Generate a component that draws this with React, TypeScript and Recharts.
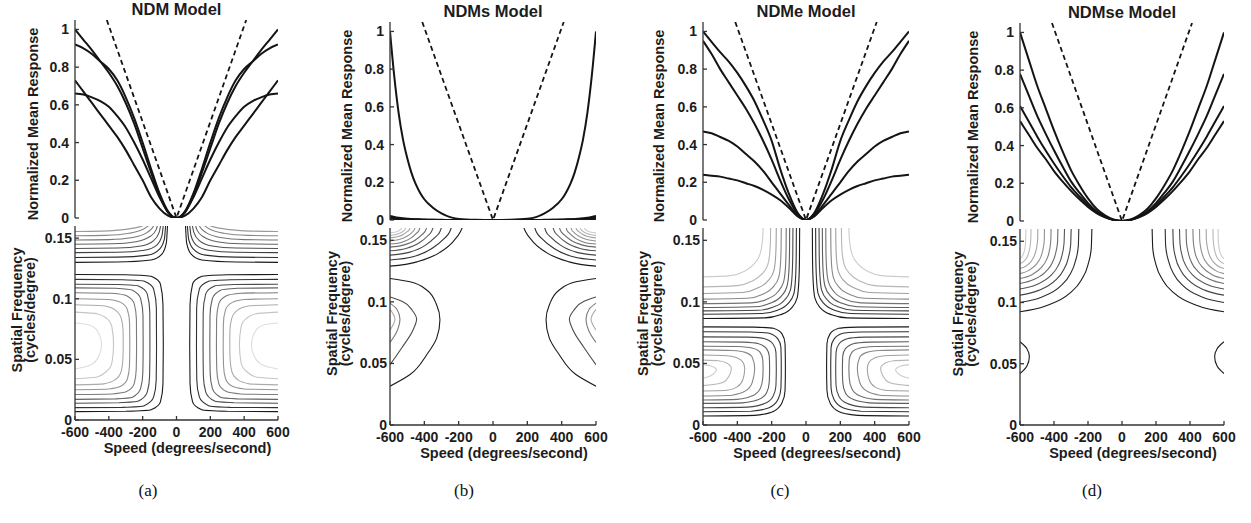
import { LineChart, Line, XAxis, YAxis } from 'recharts';

type Pt = [number, number];
type CurveKind = 'monotoneX' | 'monotoneY';

const speedTicks = [-600, -400, -200, 0, 200, 400, 600];
const responseTicks = [0, 0.2, 0.4, 0.6, 0.8, 1];
const freqTicks = [0, 0.05, 0.1, 0.15];

// |speed| values at which the tuning curves were read (curves are symmetric)
const halfSpeeds = [0, 50, 100, 150, 200, 250, 300, 350, 400, 450, 500, 550, 600];
const ndmsHalfSpeeds = [0, 100, 200, 250, 300, 350, 400, 425, 450, 475, 500, 525, 550, 575, 600];

const ndmResponse = [
  [0, 0.03, 0.12, 0.24, 0.37, 0.5, 0.61, 0.7, 0.77, 0.83, 0.89, 0.945, 1.0],
  [0, 0.035, 0.13, 0.26, 0.4, 0.53, 0.64, 0.73, 0.79, 0.83, 0.87, 0.9, 0.92],
  [0, 0.012, 0.05, 0.11, 0.2, 0.28, 0.36, 0.43, 0.49, 0.55, 0.61, 0.67, 0.73],
  [0, 0.03, 0.11, 0.21, 0.31, 0.4, 0.48, 0.54, 0.59, 0.62, 0.64, 0.655, 0.66],
];
const ndmsResponse = [
  [0, 0.001, 0.006, 0.015, 0.035, 0.065, 0.11, 0.145, 0.19, 0.25, 0.33, 0.43, 0.57, 0.76, 1.0],
  [0, 0, 0, 0, 0.001, 0.001, 0.002, 0.003, 0.004, 0.005, 0.007, 0.009, 0.012, 0.016, 0.021],
  [0, 0, 0, 0, 0, 0.001, 0.001, 0.002, 0.002, 0.003, 0.004, 0.005, 0.007, 0.01, 0.013],
  [0, 0, 0, 0, 0, 0, 0, 0.001, 0.001, 0.001, 0.002, 0.002, 0.003, 0.004, 0.006],
];
const ndmeResponse = [
  [0, 0.04, 0.14, 0.27, 0.42, 0.53, 0.63, 0.71, 0.78, 0.84, 0.89, 0.945, 1.0],
  [0, 0.035, 0.11, 0.21, 0.32, 0.42, 0.51, 0.59, 0.66, 0.73, 0.8, 0.88, 0.95],
  [0, 0.025, 0.08, 0.14, 0.2, 0.26, 0.31, 0.35, 0.39, 0.42, 0.44, 0.46, 0.47],
  [0, 0.02, 0.065, 0.105, 0.135, 0.16, 0.18, 0.195, 0.21, 0.22, 0.23, 0.235, 0.24],
];
const ndmseResponse = [
  [0, 0.008, 0.03, 0.065, 0.12, 0.19, 0.27, 0.37, 0.48, 0.6, 0.72, 0.86, 1.0],
  [0, 0.006, 0.024, 0.052, 0.095, 0.15, 0.21, 0.29, 0.375, 0.465, 0.56, 0.67, 0.78],
  [0, 0.006, 0.022, 0.048, 0.085, 0.13, 0.18, 0.24, 0.305, 0.375, 0.45, 0.53, 0.61],
  [0, 0.005, 0.019, 0.042, 0.075, 0.115, 0.16, 0.21, 0.265, 0.33, 0.39, 0.46, 0.53],
];

// dashed reference (linear) response
const linearSpeeds = [-412, 0, 412];
const linearResponse = [1.05, 0, 1.05];

// contour lines, left half (speed, spatial frequency); right half is the mirror image
const ndmUpper: Pt[][] = [
  [[-600, 0.13], [-350, 0.1303], [-150, 0.132], [-85, 0.137], [-60, 0.146], [-53, 0.161]],
  [[-600, 0.134], [-350, 0.1343], [-170, 0.136], [-100, 0.141], [-72, 0.149], [-64, 0.161]],
  [[-600, 0.138], [-350, 0.1383], [-190, 0.14], [-115, 0.1445], [-86, 0.152], [-78, 0.161]],
  [[-600, 0.1415], [-350, 0.1418], [-210, 0.1435], [-135, 0.148], [-102, 0.155], [-93, 0.161]],
  [[-600, 0.145], [-380, 0.1453], [-240, 0.147], [-155, 0.1515], [-120, 0.157], [-112, 0.161]],
  [[-600, 0.1485], [-400, 0.1488], [-260, 0.1505], [-175, 0.1545], [-140, 0.159], [-132, 0.161]],
  [[-600, 0.152], [-420, 0.1523], [-280, 0.154], [-195, 0.1575], [-158, 0.161]],
  [[-600, 0.1555], [-440, 0.1558], [-300, 0.1572], [-215, 0.1595], [-182, 0.161]],
];
const ndmLower: Pt[][] = [
  [[-600, 0.12], [-300, 0.1198], [-150, 0.1185], [-95, 0.112], [-80, 0.095], [-78, 0.062], [-80, 0.03], [-95, 0.015], [-150, 0.0085], [-300, 0.0072], [-600, 0.0069]],
  [[-600, 0.116], [-320, 0.1157], [-190, 0.1145], [-135, 0.108], [-119, 0.092], [-118, 0.062], [-120, 0.033], [-135, 0.019], [-190, 0.0118], [-320, 0.0104], [-600, 0.0102]],
  [[-600, 0.112], [-340, 0.1117], [-225, 0.1105], [-173, 0.104], [-158, 0.089], [-157, 0.062], [-159, 0.036], [-173, 0.023], [-225, 0.0156], [-340, 0.0142], [-600, 0.0138]],
  [[-600, 0.109], [-360, 0.1086], [-260, 0.107], [-212, 0.1], [-198, 0.086], [-197, 0.062], [-199, 0.039], [-212, 0.026], [-260, 0.0188], [-360, 0.0174], [-600, 0.017]],
  [[-600, 0.105], [-380, 0.1046], [-295, 0.1025], [-250, 0.096], [-237, 0.083], [-236, 0.062], [-238, 0.042], [-250, 0.03], [-295, 0.0235], [-380, 0.0215], [-600, 0.021]],
  [[-600, 0.1], [-400, 0.0994], [-330, 0.097], [-290, 0.091], [-277, 0.079], [-276, 0.062], [-278, 0.045], [-290, 0.034], [-330, 0.0278], [-400, 0.0256], [-600, 0.025]],
  [[-600, 0.095], [-430, 0.0942], [-365, 0.091], [-327, 0.084], [-316, 0.074], [-315, 0.062], [-317, 0.05], [-327, 0.04], [-365, 0.033], [-430, 0.0298], [-600, 0.029]],
  [[-600, 0.089], [-470, 0.0877], [-415, 0.084], [-382, 0.077], [-372, 0.062], [-382, 0.047], [-415, 0.04], [-470, 0.0355], [-600, 0.034]],
  [[-600, 0.08], [-520, 0.0786], [-470, 0.074], [-443, 0.062], [-470, 0.05], [-520, 0.0448], [-600, 0.042]],
];

const ndmsUpper: Pt[][] = [
  [[-600, 0.129], [-443, 0.1325], [-312, 0.14], [-232, 0.149], [-190, 0.157], [-177, 0.161]],
  [[-600, 0.134], [-467, 0.1366], [-356, 0.1433], [-288, 0.151], [-252, 0.1569], [-241, 0.161]],
  [[-600, 0.138], [-489, 0.1402], [-395, 0.1459], [-338, 0.1523], [-308, 0.1574], [-299, 0.161]],
  [[-600, 0.1415], [-507, 0.1434], [-429, 0.148], [-381, 0.1535], [-356, 0.1578], [-348, 0.161]],
  [[-600, 0.1445], [-521, 0.1461], [-454, 0.15], [-414, 0.1546], [-392, 0.1581], [-386, 0.161]],
  [[-600, 0.147], [-535, 0.1483], [-481, 0.1516], [-448, 0.1555], [-430, 0.1584], [-425, 0.161]],
  [[-600, 0.1495], [-546, 0.1506], [-501, 0.1533], [-473, 0.1563], [-458, 0.1587], [-454, 0.161]],
  [[-600, 0.152], [-557, 0.1529], [-520, 0.155], [-498, 0.1572], [-486, 0.159], [-483, 0.161]],
  [[-600, 0.154], [-566, 0.1547], [-537, 0.1561], [-519, 0.1579], [-510, 0.1593], [-507, 0.161]],
  [[-600, 0.156], [-575, 0.1565], [-554, 0.1574], [-541, 0.1586], [-534, 0.1596], [-532, 0.161]],
];
const ndmsLower: Pt[][] = [
  [[-600, 0.119], [-483, 0.1163], [-386, 0.1096], [-328, 0.0975], [-309, 0.0854], [-328, 0.0706], [-386, 0.0571], [-483, 0.041], [-600, 0.0315]],
  [[-600, 0.104], [-530, 0.1005], [-470, 0.093], [-445, 0.086], [-470, 0.076], [-530, 0.063], [-600, 0.049]],
  [[-600, 0.099], [-560, 0.094], [-542, 0.086], [-560, 0.076], [-600, 0.067]],
  [[-600, 0.094], [-571, 0.086], [-600, 0.077]],
];

const ndmeUpper: Pt[][] = [
  [[-600, 0.0865], [-240, 0.087], [-150, 0.0895], [-85, 0.095], [-52, 0.103], [-42, 0.116], [-38, 0.135], [-37, 0.161]],
  [[-600, 0.09], [-260, 0.0905], [-170, 0.093], [-105, 0.0985], [-71, 0.1065], [-61, 0.119], [-57, 0.137], [-56, 0.161]],
  [[-600, 0.0927], [-280, 0.0932], [-190, 0.0958], [-125, 0.1015], [-91, 0.1095], [-81, 0.1215], [-77, 0.139], [-76, 0.161]],
  [[-600, 0.0954], [-300, 0.096], [-210, 0.0988], [-145, 0.1045], [-111, 0.1125], [-100, 0.124], [-96, 0.141], [-95, 0.161]],
  [[-600, 0.0986], [-320, 0.0992], [-230, 0.102], [-165, 0.108], [-131, 0.116], [-120, 0.127], [-116, 0.143], [-115, 0.161]],
  [[-600, 0.1022], [-340, 0.103], [-255, 0.106], [-192, 0.112], [-160, 0.1195], [-149, 0.13], [-145, 0.145], [-144, 0.161]],
  [[-600, 0.1068], [-370, 0.1076], [-285, 0.111], [-222, 0.117], [-189, 0.1245], [-178, 0.1345], [-174, 0.148], [-173, 0.161]],
  [[-600, 0.1122], [-400, 0.1132], [-320, 0.1165], [-258, 0.1225], [-223, 0.13], [-211, 0.1395], [-207, 0.151], [-206, 0.161]],
  [[-600, 0.1203], [-440, 0.1213], [-365, 0.1245], [-305, 0.1305], [-270, 0.138], [-256, 0.147], [-251, 0.155], [-250, 0.161]],
];
const ndmeLower: Pt[][] = [
  [[-600, 0.0797], [-300, 0.0795], [-190, 0.0785], [-140, 0.074], [-122, 0.066], [-120, 0.046], [-122, 0.028], [-140, 0.018], [-190, 0.011], [-300, 0.0078], [-600, 0.0073]],
  [[-600, 0.0757], [-320, 0.0755], [-215, 0.0745], [-164, 0.07], [-146, 0.063], [-144, 0.046], [-146, 0.03], [-164, 0.0205], [-215, 0.014], [-320, 0.0112], [-600, 0.0108]],
  [[-600, 0.0716], [-340, 0.0714], [-245, 0.0703], [-193, 0.066], [-175, 0.059], [-173, 0.046], [-175, 0.032], [-193, 0.023], [-245, 0.0172], [-340, 0.0145], [-600, 0.014]],
  [[-600, 0.0676], [-370, 0.0673], [-280, 0.0662], [-230, 0.062], [-214, 0.056], [-212, 0.046], [-214, 0.035], [-230, 0.026], [-280, 0.0205], [-370, 0.018], [-600, 0.0176]],
  [[-600, 0.064], [-400, 0.0637], [-315, 0.0625], [-267, 0.059], [-252, 0.053], [-250, 0.046], [-252, 0.038], [-267, 0.0295], [-315, 0.0235], [-400, 0.0208], [-600, 0.0203]],
  [[-600, 0.061], [-430, 0.0605], [-355, 0.059], [-313, 0.055], [-299, 0.046], [-313, 0.0345], [-355, 0.0275], [-430, 0.0242], [-600, 0.0235]],
  [[-600, 0.0568], [-460, 0.0563], [-400, 0.0545], [-367, 0.051], [-357, 0.046], [-367, 0.037], [-400, 0.031], [-460, 0.0282], [-600, 0.0276]],
  [[-600, 0.0527], [-510, 0.0522], [-465, 0.0505], [-435, 0.046], [-465, 0.0365], [-510, 0.0335], [-600, 0.032]],
  [[-600, 0.049], [-555, 0.048], [-522, 0.045], [-555, 0.04], [-600, 0.038]],
];

const ndmseUpper: Pt[][] = [
  [[-600, 0.0924], [-446, 0.0973], [-309, 0.1074], [-240, 0.1182], [-201, 0.1304], [-181, 0.144], [-177, 0.161]],
  [[-600, 0.1], [-474, 0.1043], [-362, 0.1133], [-306, 0.1229], [-274, 0.1337], [-257, 0.1458], [-254, 0.161]],
  [[-600, 0.106], [-490, 0.1099], [-393, 0.118], [-344, 0.1266], [-316, 0.1363], [-302, 0.1472], [-299, 0.161]],
  [[-600, 0.111], [-505, 0.1145], [-420, 0.1219], [-377, 0.1297], [-353, 0.1385], [-341, 0.1484], [-338, 0.161]],
  [[-600, 0.1155], [-519, 0.1187], [-447, 0.1254], [-410, 0.1325], [-390, 0.1405], [-379, 0.1495], [-377, 0.161]],
  [[-600, 0.1196], [-533, 0.1225], [-474, 0.1286], [-444, 0.135], [-427, 0.1423], [-419, 0.1504], [-417, 0.161]],
  [[-600, 0.1236], [-548, 0.1262], [-501, 0.1317], [-477, 0.1375], [-464, 0.144], [-457, 0.1514], [-456, 0.161]],
  [[-600, 0.1277], [-562, 0.13], [-528, 0.1349], [-511, 0.14], [-501, 0.1459], [-496, 0.1524], [-495, 0.161]],
  [[-600, 0.1318], [-576, 0.1338], [-555, 0.138], [-545, 0.1426], [-539, 0.1477], [-536, 0.1533], [-535, 0.161]],
  [[-600, 0.136], [-587, 0.1377], [-576, 0.1413], [-570, 0.1452], [-567, 0.1495], [-566, 0.1543], [-565, 0.161]],
];
const ndmseLower: Pt[][] = [
  [[-600, 0.068], [-560, 0.0625], [-545, 0.0557], [-560, 0.048], [-600, 0.042]],
];

const FONT = '"Liberation Sans", Arial, Helvetica, sans-serif';
const INK = '#1c1c1c';
const AXIS = { stroke: '#333', strokeWidth: 1.3 };
const tickFont = { fontSize: 14, fontWeight: 700, fill: INK, fontFamily: FONT };
const YW = 70;
const RM = 18;

interface Lobe {
  contours: Pt[][];
  curve: CurveKind;
  light: number;
}

interface PanelCfg {
  title: string;
  caption: string;
  captionX: number;
  left: number;
  width: number;
  top1: number;
  h1: number;
  top2: number;
  h2: number;
  speeds: number[];
  curves: number[][];
  lobes: Lobe[];
  respGap: number;
  freqGaps: number[];
}

const PANELS: PanelCfg[] = [
  {
    title: 'NDM Model', caption: '(a)', captionX: 148,
    left: 75, width: 203, top1: 20, h1: 198, top2: 226, h2: 194,
    speeds: halfSpeeds, curves: ndmResponse,
    lobes: [
      { contours: ndmLower, curve: 'monotoneY', light: 0xdd },
      { contours: ndmUpper, curve: 'monotoneX', light: 0x9a },
    ],
    respGap: 42, freqGaps: [58, 45],
  },
  {
    title: 'NDMs Model', caption: '(b)', captionX: 464,
    left: 390, width: 206, top1: 22, h1: 198, top2: 228, h2: 197,
    speeds: ndmsHalfSpeeds, curves: ndmsResponse,
    lobes: [
      { contours: ndmsUpper, curve: 'monotoneX', light: 0xcc },
      { contours: ndmsLower, curve: 'monotoneY', light: 0xaa },
    ],
    respGap: 43, freqGaps: [58, 45],
  },
  {
    title: 'NDMe Model', caption: '(c)', captionX: 780,
    left: 703, width: 206, top1: 22, h1: 198, top2: 228, h2: 197,
    speeds: halfSpeeds, curves: ndmeResponse,
    lobes: [
      { contours: ndmeUpper, curve: 'monotoneX', light: 0xcc },
      { contours: ndmeLower, curve: 'monotoneY', light: 0xcc },
    ],
    respGap: 44, freqGaps: [60, 46],
  },
  {
    title: 'NDMse Model', caption: '(d)', captionX: 1092,
    left: 1020, width: 204, top1: 23, h1: 198, top2: 229, h2: 196,
    speeds: halfSpeeds, curves: ndmseResponse,
    lobes: [
      { contours: ndmseUpper, curve: 'monotoneX', light: 0xcc },
      { contours: ndmseLower, curve: 'monotoneY', light: 0x1a },
    ],
    respGap: 47, freqGaps: [62, 49],
  },
];

function mirrored(speeds: number[], values: number[]) {
  const left = speeds.slice(1).map((s, i) => ({ x: -s, y: values[i + 1] })).reverse();
  const right = speeds.map((s, i) => ({ x: s, y: values[i] }));
  return [...left, ...right];
}

function grey(i: number, n: number, light: number) {
  const v = Math.round(0x1a + ((light - 0x1a) * i) / Math.max(1, n - 1));
  return `rgb(${v},${v},${v})`;
}

const sideLabel = (lines: string[], gaps: number[], shift: number) => (props: any) => {
  const vb = props.viewBox || { x: 0, y: 0, width: 0, height: 0 };
  const cy = vb.y + vb.height / 2 + shift;
  return (
    <g>
      {lines.map((t, i) => {
        const cx = vb.x + vb.width - gaps[i];
        return (
          <text key={i} x={cx} y={cy} transform={`rotate(-90 ${cx} ${cy})`} textAnchor="middle"
            dominantBaseline="central" fontSize={14.5} fontWeight={700} fontFamily={FONT} fill={INK}>
            {t}
          </text>
        );
      })}
    </g>
  );
};

const speedLabel = (props: any) => {
  const vb = props.viewBox || { x: 0, y: 0, width: 0, height: 0 };
  return (
    <text x={vb.x + vb.width / 2 + 11} y={vb.y + vb.height - 13} textAnchor="middle"
      fontSize={14.5} fontWeight={700} fontFamily={FONT} fill={INK}>
      Speed (degrees/second)
    </text>
  );
};

function Panel({ p }: { p: PanelCfg }) {
  const chartW = YW + p.width + RM;
  const dashed = linearSpeeds.map((x, i) => ({ x, y: linearResponse[i] }));
  const contours: { key: string; data: { x: number; y: number }[]; color: string; type: CurveKind }[] = [];
  p.lobes.forEach((lobe, li) => {
    lobe.contours.forEach((c, ci) => {
      const color = grey(ci, lobe.contours.length, lobe.light);
      contours.push({ key: `l${li}-${ci}`, data: c.map(([x, y]) => ({ x, y })), color, type: lobe.curve });
      contours.push({ key: `r${li}-${ci}`, data: c.map(([x, y]) => ({ x: -x, y })), color, type: lobe.curve });
    });
  });

  return (
    <>
      <div style={{
        position: 'absolute', left: p.left - 20, width: p.width + 40, top: p.top1 - 20, height: 18,
        lineHeight: '18px', textAlign: 'center', fontFamily: FONT, fontWeight: 700, fontSize: 16.5, color: INK,
      }}>
        {p.title}
      </div>
      <div style={{ position: 'absolute', left: p.left - YW, top: 0 }}>
        <LineChart width={chartW} height={p.top1 + p.h1 + 12}
          margin={{ top: p.top1, right: RM, bottom: 12, left: 0 }}>
          <XAxis xAxisId="b" type="number" dataKey="x" domain={[-600, 600]} ticks={speedTicks} interval={0}
            allowDataOverflow height={0} tick={false} tickSize={-4} axisLine={AXIS} tickLine={AXIS} />
          <XAxis xAxisId="t" orientation="top" type="number" dataKey="x" domain={[-600, 600]} ticks={speedTicks}
            interval={0} allowDataOverflow height={0} tick={false} tickSize={-4} axisLine={AXIS} tickLine={AXIS} />
          <YAxis yAxisId="l" type="number" domain={[0, 1.05]} ticks={responseTicks} interval={0} allowDataOverflow
            width={YW} tickSize={-4} tickMargin={10} tick={tickFont} axisLine={AXIS} tickLine={AXIS}
            label={{ content: sideLabel(['Normalized Mean Response'], [p.respGap], 5) }} />
          <YAxis yAxisId="r" orientation="right" type="number" domain={[0, 1.05]} ticks={responseTicks} interval={0}
            allowDataOverflow width={0} tick={false} tickSize={-4} axisLine={AXIS} tickLine={AXIS} />
          {p.curves.map((vals, i) => (
            <Line key={i} xAxisId="b" yAxisId="l" data={mirrored(p.speeds, vals)} dataKey="y" type="monotone"
              stroke="#141414" strokeWidth={2} dot={false} activeDot={false} isAnimationActive={false} />
          ))}
          <Line xAxisId="t" yAxisId="r" data={dashed} dataKey="y" type="linear" stroke="#141414" strokeWidth={1.8}
            strokeDasharray="5 3.5" dot={false} activeDot={false} isAnimationActive={false} />
        </LineChart>
      </div>
      <div style={{ position: 'absolute', left: p.left - YW, top: p.top2 - 2 }}>
        <LineChart width={chartW} height={2 + p.h2 + 46} margin={{ top: 2, right: RM, bottom: 0, left: 0 }}>
          <XAxis xAxisId="b" type="number" dataKey="x" domain={[-600, 600]} ticks={speedTicks} interval={0}
            allowDataOverflow height={46} tick={tickFont} tickSize={-4} tickMargin={11} axisLine={AXIS}
            tickLine={AXIS} label={{ content: speedLabel }} />
          <XAxis xAxisId="t" orientation="top" type="number" dataKey="x" domain={[-600, 600]} ticks={speedTicks}
            interval={0} allowDataOverflow height={0} tick={false} tickSize={-4} axisLine={AXIS} tickLine={AXIS} />
          <YAxis yAxisId="l" type="number" domain={[0, 0.16]} ticks={freqTicks} interval={0} allowDataOverflow
            width={YW} tickSize={-4} tickMargin={7} tick={tickFont} axisLine={AXIS} tickLine={AXIS}
            label={{ content: sideLabel(['Spatial Frequency', '(cycles/degree)'], p.freqGaps, -13) }} />
          <YAxis yAxisId="r" orientation="right" type="number" domain={[0, 0.16]} ticks={freqTicks} interval={0}
            allowDataOverflow width={0} tick={false} tickSize={-4} axisLine={AXIS} tickLine={AXIS} />
          {contours.map((c, i) => (
            <Line key={c.key} xAxisId={i === 0 ? 't' : 'b'} yAxisId={i === 0 ? 'r' : 'l'} data={c.data}
              dataKey="y" type={c.type} stroke={c.color} strokeWidth={1.1} dot={false} activeDot={false}
              isAnimationActive={false} />
          ))}
        </LineChart>
      </div>
      <div style={{
        position: 'absolute', left: p.captionX - 30, width: 60, top: 481, textAlign: 'center',
        fontFamily: '"Liberation Serif", "DejaVu Serif", serif', fontSize: 17, color: '#111',
      }}>
        {p.caption}
      </div>
    </>
  );
}

export default function App() {
  return (
    <div style={{ position: 'absolute', left: 0, top: 0, width: 1251, height: 523, background: '#fff', overflow: 'hidden' }}>
      {PANELS.map((p) => (
        <Panel key={p.title} p={p} />
      ))}
    </div>
  );
}
